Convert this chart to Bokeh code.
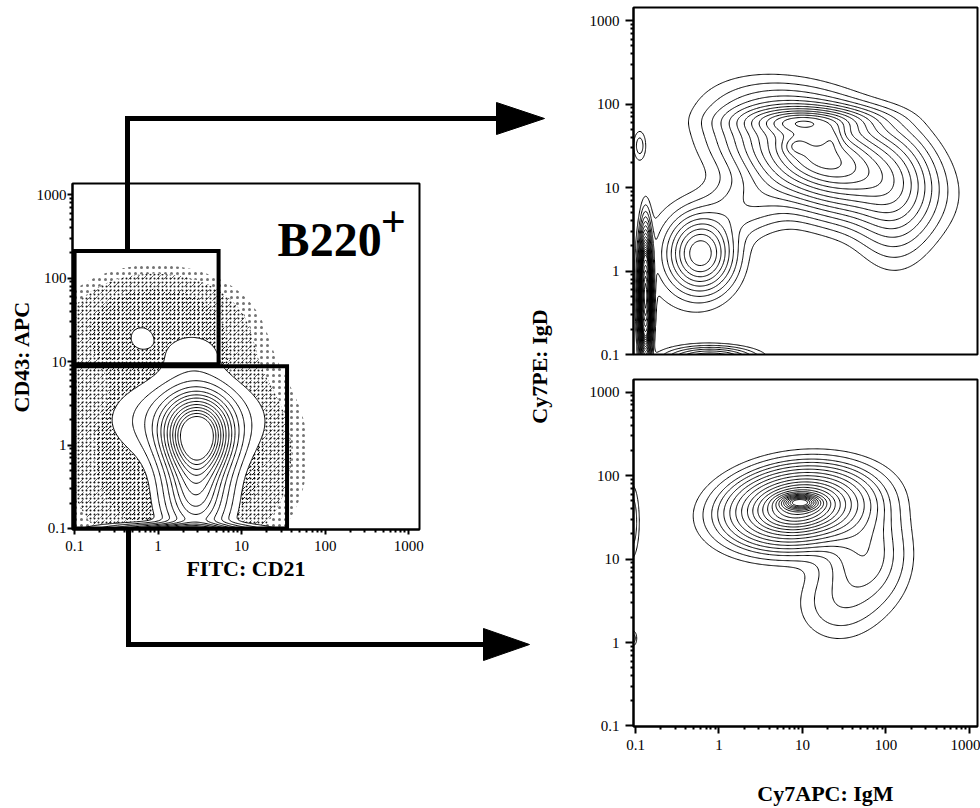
import numpy as np
from bokeh.plotting import figure
from bokeh.models import Range1d, FixedTicker, CustomJSTickFormatter, Label
from bokeh.layouts import row, column
from bokeh.embed import file_html
from bokeh.resources import INLINE

# ------------------------------------------------------------------ data
major_ticks = [0.1, 1, 10, 100, 1000]
tick_labels = ["0.1", "1", "10", "100", "1000"]
minor_mantissas = [2, 3, 4, 5, 6, 7, 8, 9]

# gates on the B220+ plot (FITC: CD21 vs CD43: APC)
gate_left = [0.1, 0.1]
gate_right = [5.3, 35.0]
gate_bottom = [9.3, 0.1]
gate_top = [210.0, 8.8]

# left plot: density components (log10 centre / spread / correlation / weight)
lm_cx = [0.47, 0.45, 0.35, 0.25, 0.40, -0.21]
lm_cy = [0.10, -0.60, 0.30, -1.02, 1.12, 1.29]
lm_sx = [0.25, 0.25, 0.55, 0.55, 0.33, 0.12]
lm_sy = [0.30, 0.35, 0.31, 0.05, 0.22, 0.12]
lm_r = [0, 0, 0, 0, 0, 0]
lm_w = [1.0, 0.45, 0.19, 0.5, 0.065, 0.07]
lm_levels = [0.05, 0.10, 0.16, 0.23, 0.30, 0.37, 0.44, 0.52, 0.60, 0.68, 0.76, 0.84, 0.92]

# left plot: outlier (dot) cloud
lc_cx = [0.25, -0.05]
lc_cy = [-0.10, 1.40]
lc_sx = [0.75, 0.60]
lc_sy = [0.75, 0.38]
lc_r = [0, 0]
lc_w = [1.0, 0.8]
lc_levels = [0.12, 0.2, 0.4, 1e9]

# upper right plot: Cy7APC: IgM vs Cy7PE: IgD
tr_cx = [1.25, 1.05, 2.10, 0.92, 1.36, -0.22, 0.35, -0.88, -0.95, -0.10, -0.40]
tr_cy = [1.35, 1.80, 0.90, 1.50, 1.60, 0.21, 0.80, -0.30, 1.50, -1.05, 0.15]
tr_sx = [0.60, 0.45, 0.28, 0.10, 0.09, 0.22, 0.35, 0.04, 0.05, 0.30, 0.45]
tr_sy = [0.38, 0.10, 0.45, 0.07, 0.10, 0.25, 0.25, 0.38, 0.12, 0.08, 0.50]
tr_r = [-0.4, 0, 0, 0, 0, 0, 0.3, 0, 0, 0, 0]
tr_w = [1.0, 0.45, 0.2, 0.15, 0.15, 0.6, 0.12, 3.0, 0.08, 0.4, 0.045]
tr_levels = [0.03, 0.06, 0.10, 0.15, 0.21, 0.28, 0.36, 0.45, 0.55, 0.65,
             0.75, 0.85, 0.95, 1.05, 1.15, 1.25, 1.35, 1.6, 1.9, 2.2, 2.5, 2.8]

# lower right plot
br_cx = [0.95, 0.97, 1.75, 1.40, -1.05, -1.03]
br_cy = [1.62, 1.68, 1.05, 0.45, 1.45, 0.05]
br_sx = [0.45, 0.14, 0.30, 0.30, 0.06, 0.03]
br_sy = [0.25, 0.055, 0.38, 0.28, 0.28, 0.06]
br_r = [0.15, 0, 0, 0, 0, 0]
br_w = [1.0, 0.6, 0.13, 0.05, 0.07, 0.06]
br_levels = [0.02, 0.04, 0.07, 0.10, 0.14, 0.19, 0.25, 0.32, 0.40, 0.48, 0.56,
             0.64, 0.72, 0.80, 0.88, 0.96, 1.04, 1.12, 1.20, 1.28, 1.36, 1.44]

# ------------------------------------------------------------------ helpers
FONT = "Liberation Serif"
PPD = 83.5  # pixels per decade


def density(cx, cy, sx, sy, r, w):
    g = np.linspace(-1.4, 3.4, 361)
    U, V = np.meshgrid(g, g)
    z = np.zeros_like(U)
    for a, b, c, d, rr, k in zip(cx, cy, sx, sy, r, w):
        du = (U - a) / c
        dv = (V - b) / d
        z += k * np.exp(-0.5 * (du * du - 2 * rr * du * dv + dv * dv) / (1 - rr * rr))
    return 10 ** g, 10 ** g, z


minor_ticks = [m * 10.0 ** e for e in range(-1, 3) for m in minor_mantissas]
fmt_code = """
for (let i = 0; i < vals.length; i++) {
  if (Math.abs(vals[i] - tick) < 1e-6 * vals[i]) return labs[i];
}
return '';
"""


def style(p, tick_out, standoff, show_x=True):
    p.xgrid.visible = False
    p.ygrid.visible = False
    p.outline_line_color = "black"
    p.outline_line_width = 2
    p.background_fill_color = "white"
    p.border_fill_color = "white"
    for ax in list(p.xaxis) + list(p.yaxis):
        ax.ticker = FixedTicker(ticks=major_ticks, minor_ticks=minor_ticks)
        ax.formatter = CustomJSTickFormatter(args=dict(vals=major_ticks, labs=tick_labels),
                                             code=fmt_code)
        ax.axis_line_color = "black"
        ax.axis_line_width = 2
        ax.major_tick_in = 0
        ax.major_tick_out = tick_out
        ax.minor_tick_in = 0
        ax.minor_tick_out = 3
        ax.major_tick_line_width = 2
        ax.minor_tick_line_width = 2
        ax.major_label_text_font = FONT
        ax.major_label_text_font_size = "15px"
        ax.major_label_text_color = "black"
        ax.major_label_standoff = standoff
        ax.axis_label_text_font = FONT
        ax.axis_label_text_font_style = "bold"
        ax.axis_label_text_font_size = "22px"
        ax.axis_label_text_color = "black"
    if not show_x:
        p.xaxis.visible = False


# ------------------------------------------------------------------ left plot
p1 = figure(width=568, height=808, x_axis_type="log", y_axis_type="log",
            x_range=Range1d(10 ** -1.025, 10 ** 3.13),
            y_range=Range1d(10 ** -1.012, 10 ** 3.132),
            output_backend="svg", toolbar_location=None,
            min_border_left=72, min_border_right=149,
            min_border_top=183, min_border_bottom=279)
style(p1, 5, 1)
p1.xaxis.axis_label = "FITC: CD21"
p1.yaxis.axis_label = "CD43: APC"
p1.xaxis.major_label_standoff = 6
p1.xaxis.axis_label_standoff = 2
p1.yaxis.axis_label_standoff = 0

xg, yg, zc = density(lc_cx, lc_cy, lc_sx, lc_sy, lc_r, lc_w)
p1.contour(xg, yg, zc, levels=lc_levels, fill_color="white", fill_alpha=1,
           hatch_pattern=".", hatch_scale=[6, 4, 4], hatch_color="black",
           hatch_alpha=[0.55, 0.9, 1.0], line_color=None)
p1.contour(xg, yg, zc, levels=lc_levels[1:], fill_color="white", fill_alpha=0.01,
           hatch_pattern=",", hatch_scale=[7, 5], hatch_weight=1, hatch_color="black",
           hatch_alpha=[0.6, 0.9], line_color=None)
xg, yg, zm = density(lm_cx, lm_cy, lm_sx, lm_sy, lm_r, lm_w)
p1.contour(xg, yg, zm, levels=[lm_levels[0], 1e9], fill_color="white", line_color=None)
p1.contour(xg, yg, zm, levels=lm_levels, line_color="black", line_width=1)

p1.quad(left=gate_left, right=gate_right, bottom=gate_bottom, top=gate_top,
        fill_color=None, line_color="black", line_width=4, line_join="miter")


def lx(X):
    return 10 ** (-1 + (X - 74) / PPD)


def ly(Y):
    return 10 ** (-1 + (528 - Y) / PPD)


p1.add_layout(Label(x=lx(277), y=ly(239), text="B220", text_font=FONT, text_font_style="bold",
                    text_font_size="48px", text_color="black", text_baseline="alphabetic"))
p1.add_layout(Label(x=lx(380), y=ly(221), text="+", text_font=FONT, text_font_style="bold",
                    text_font_size="44px", text_color="black", text_baseline="alphabetic"))

# ------------------------------------------------------------------ right plots
p2 = figure(width=412, height=367, x_axis_type="log", y_axis_type="log",
            x_range=Range1d(10 ** -1.024, 10 ** 3.096),
            y_range=Range1d(0.1, 10 ** 3.156),
            output_backend="svg", toolbar_location=None,
            min_border_left=65, min_border_right=3, min_border_top=7, min_border_bottom=13)
style(p2, 8, 6, show_x=False)
xg, yg, zt = density(tr_cx, tr_cy, tr_sx, tr_sy, tr_r, tr_w)
p2.contour(xg, yg, zt, levels=tr_levels, line_color="black", line_width=1)

p3 = figure(width=412, height=441, x_axis_type="log", y_axis_type="log",
            x_range=Range1d(10 ** -1.024, 10 ** 3.096),
            y_range=Range1d(10 ** -1.006, 10 ** 3.15),
            output_backend="svg", toolbar_location=None,
            min_border_left=65, min_border_right=3, min_border_top=12, min_border_bottom=82)
style(p3, 8, 6)
p3.xaxis.major_tick_out = 7
p3.xaxis.major_label_standoff = 6
xg, yg, zb = density(br_cx, br_cy, br_sx, br_sy, br_r, br_w)
p3.contour(xg, yg, zb, levels=br_levels, line_color="black", line_width=1)

# ------------------------------------------------------------------ overlay (arrows, shared labels)
ov = figure(width=980, height=808, x_range=Range1d(0, 980), y_range=Range1d(808, 0),
            output_backend="svg", toolbar_location=None,
            x_axis_location=None, y_axis_location=None,
            min_border=0, min_border_left=0, min_border_right=0,
            min_border_top=0, min_border_bottom=0,
            background_fill_color=None, border_fill_color=None, outline_line_color=None,
            styles={"position": "absolute", "left": "0px", "top": "0px",
                    "pointer-events": "none"})
ov.xgrid.visible = False
ov.ygrid.visible = False
ov.line([127, 127, 500], [251, 118, 118], line_width=5, line_color="black", line_join="miter")
ov.patch([496, 544, 496], [102, 118, 134], fill_color="black", line_color="black")
ov.line([128, 128, 487], [529, 644, 644], line_width=5, line_color="black", line_join="miter")
ov.patch([483, 529, 483], [628, 644, 660], fill_color="black", line_color="black")
ov.text(x=[539], y=[366], text=["Cy7PE: IgD"], angle=np.pi / 2, text_font=FONT,
        text_font_style="bold", text_font_size="22px", text_color="black",
        text_align="center", text_baseline="middle")
ov.text(x=[825], y=[793], text=["Cy7APC: IgM"], text_font=FONT,
        text_font_style="bold", text_font_size="22px", text_color="black",
        text_align="center", text_baseline="middle")

layout = column(row(p1, column(p2, p3)), ov)
open("out.html", "w").write(file_html(layout, INLINE))
